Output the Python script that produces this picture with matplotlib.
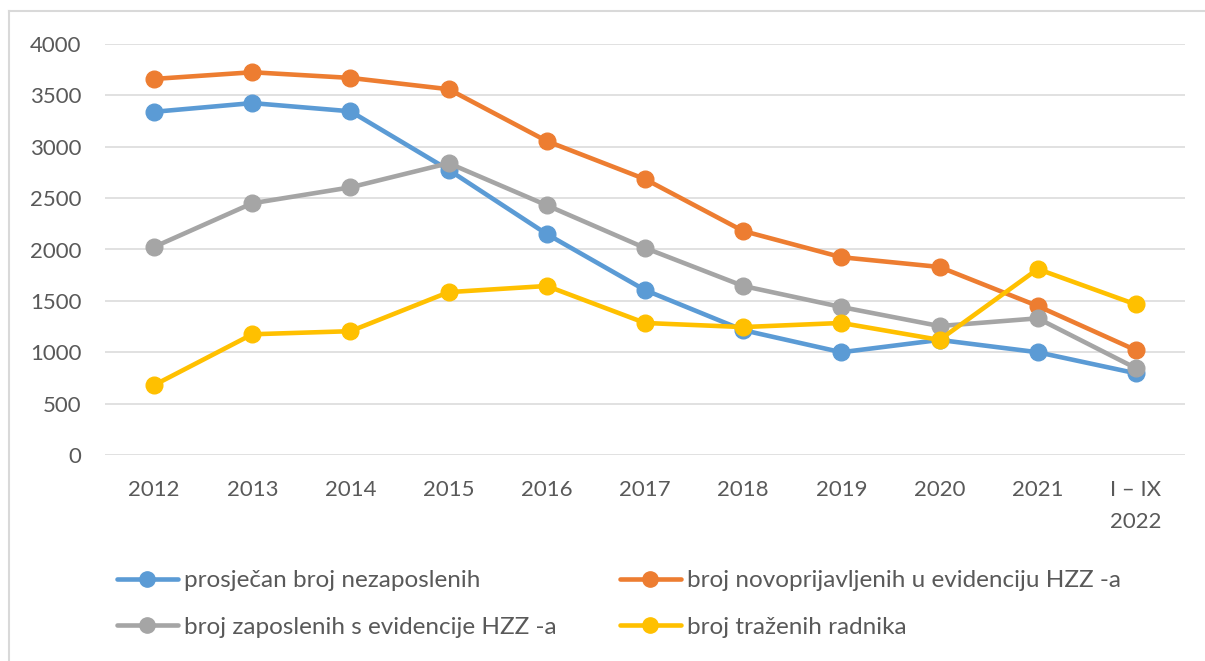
import matplotlib
matplotlib.use('Agg')
import matplotlib.pyplot as plt
from matplotlib.lines import Line2D

plt.rcParams['font.family'] = ['Lato', 'DejaVu Sans']

years = ['2012', '2013', '2014', '2015', '2016', '2017', '2018', '2019', '2020', '2021', 'I – IX\n2022']
prosjecan = [3340, 3425, 3345, 2775, 2150, 1605, 1215, 1000, 1120, 1000, 795]
novoprijavljeni = [3660, 3725, 3670, 3560, 3055, 2685, 2180, 1925, 1830, 1450, 1020]
zaposleni = [2025, 2450, 2605, 2840, 2430, 2015, 1645, 1440, 1255, 1330, 845]
trazeni = [680, 1175, 1205, 1585, 1645, 1285, 1245, 1285, 1120, 1810, 1465]

labels = ['prosječan broj nezaposlenih',
          'broj novoprijavljenih u evidenciju HZZ -a',
          'broj zaposlenih s evidencije HZZ -a',
          'broj traženih radnika']
colors = ['#5B9BD5', '#ED7D31', '#A5A5A5', '#FFC000']
series = [prosjecan, novoprijavljeni, zaposleni, trazeni]

W, H = 1205, 661
fig = plt.figure(figsize=(W / 100, H / 100), dpi=100)
ax = fig.add_axes([105 / W, 206 / H, 1080 / W, 411 / H])

x = list(range(len(years)))
handles = []
for vals, c, lab in zip(series, colors, labels):
    h, = ax.plot(x, vals, color=c, lw=3.3, marker='o', markersize=12,
                 solid_capstyle='round', label=lab, zorder=3)
    handles.append(h)

ax.set_xlim(-0.5, len(years) - 0.5)
ax.set_ylim(0, 4000)
ax.set_yticks(range(0, 4001, 500))
ax.set_xticks(x)
ax.set_xticklabels(years, linespacing=1.75)
for s in ax.spines.values():
    s.set_visible(False)
ax.yaxis.grid(True, color='#D9D9D9', lw=1.1)
ax.set_axisbelow(True)
ax.tick_params(axis='both', length=0, labelsize=16, colors='#595959')
ax.tick_params(axis='y', pad=17)
ax.tick_params(axis='x', pad=18)

# legend in two separate columns
leg_kw = dict(frameon=False, fontsize=17.5, handlelength=2.5, handletextpad=0.25,
              labelspacing=1.05, labelcolor='#595959', borderaxespad=0, borderpad=0)
leg1 = fig.legend([handles[0], handles[2]], [labels[0], labels[2]],
                  loc='upper left', bbox_to_anchor=(117 / W, 1 - 570 / H), **leg_kw)
leg2 = fig.legend([handles[1], handles[3]], [labels[1], labels[3]],
                  loc='upper left', bbox_to_anchor=(620 / W, 1 - 570 / H), **leg_kw)
for lg in (leg1, leg2):
    for ln in lg.get_lines():
        ln.set_markersize(11)

# chart border (left and top edges visible)
fig.add_artist(Line2D([9 / W, 9 / W], [0, 1 - 11 / H], transform=fig.transFigure,
                      color='#D9D9D9', lw=1.5))
fig.add_artist(Line2D([9 / W, 1], [1 - 11 / H, 1 - 11 / H], transform=fig.transFigure,
                      color='#D9D9D9', lw=1.5))

fig.savefig('out.png', dpi=100, facecolor='white')
